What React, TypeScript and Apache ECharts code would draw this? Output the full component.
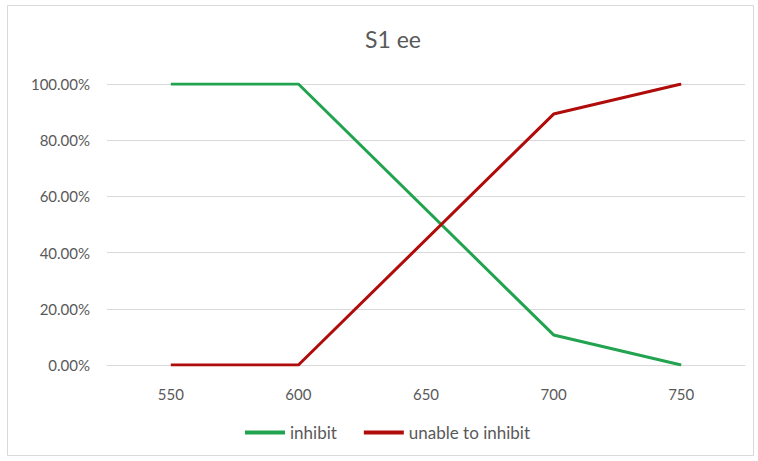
import React, { useEffect, useRef } from "react";
import * as echarts from "echarts";

const categories = ["550", "600", "650", "700", "750"];
const inhibit = [1.0, 1.0, null, 0.107, 0.0];
const unableToInhibit = [0.0, 0.0, null, 0.893, 1.0];
const yTicks = [0, 0.2, 0.4, 0.6, 0.8, 1.0];

const FONT = "Lato, 'Open Sans', sans-serif";

export default function App() {
  const ref = useRef<HTMLDivElement>(null);
  useEffect(() => {
    document.body.style.margin = "0";
    if (!ref.current) return;
    const chart = echarts.init(ref.current, undefined, { renderer: "svg" });
    chart.setOption({
      animation: false,
      backgroundColor: "#ffffff",
      textStyle: { fontFamily: FONT },
      title: {
        text: "S1 ee",
        left: 388,
        top: 22,
        textAlign: "center",
        textStyle: { fontFamily: FONT, fontSize: 23, fontWeight: "normal", color: "#595959" },
      },
      graphic: [
        {
          type: "rect",
          shape: { x: 7.5, y: 5.5, width: 746, height: 450 },
          style: { fill: "none", stroke: "#d9d9d9", lineWidth: 1 },
          silent: true,
          z: -1,
        },
      ],
      grid: { left: 107, right: 13, top: 84, bottom: 96, containLabel: false },
      legend: {
        left: 245,
        top: 424,
        padding: 0,
        icon: "rect",
        itemWidth: 40,
        itemHeight: 4,
        itemGap: 27,
        textStyle: { fontFamily: FONT, fontSize: 17, color: "#595959", padding: [0, 0, 0, 0] },
        data: ["inhibit", "unable to inhibit"],
      },
      xAxis: {
        type: "category",
        data: categories,
        boundaryGap: true,
        axisLine: { show: true, lineStyle: { color: "#d9d9d9", width: 1 } },
        axisTick: { show: false },
        axisLabel: { fontFamily: FONT, fontSize: 15, color: "#595959", margin: 21 },
      },
      yAxis: {
        type: "value",
        min: yTicks[0],
        max: yTicks[yTicks.length - 1],
        interval: 0.2,
        axisLine: { show: false },
        axisTick: { show: false },
        splitLine: { lineStyle: { color: "#d9d9d9", width: 1 } },
        axisLabel: {
          fontFamily: FONT,
          fontSize: 15,
          color: "#595959",
          margin: 17,
          formatter: (v: number) => (v * 100).toFixed(2) + "%",
        },
      },
      series: [
        {
          name: "inhibit",
          type: "line",
          data: inhibit,
          connectNulls: true,
          showSymbol: false,
          symbol: "none",
          lineStyle: { color: "#22a350", width: 3 },
          itemStyle: { color: "#22a350" },
        },
        {
          name: "unable to inhibit",
          type: "line",
          data: unableToInhibit,
          connectNulls: true,
          showSymbol: false,
          symbol: "none",
          lineStyle: { color: "#b00c0c", width: 3 },
          itemStyle: { color: "#b00c0c" },
        },
      ],
    });
    return () => chart.dispose();
  }, []);
  return <div ref={ref} style={{ width: 758, height: 461 }} />;
}
